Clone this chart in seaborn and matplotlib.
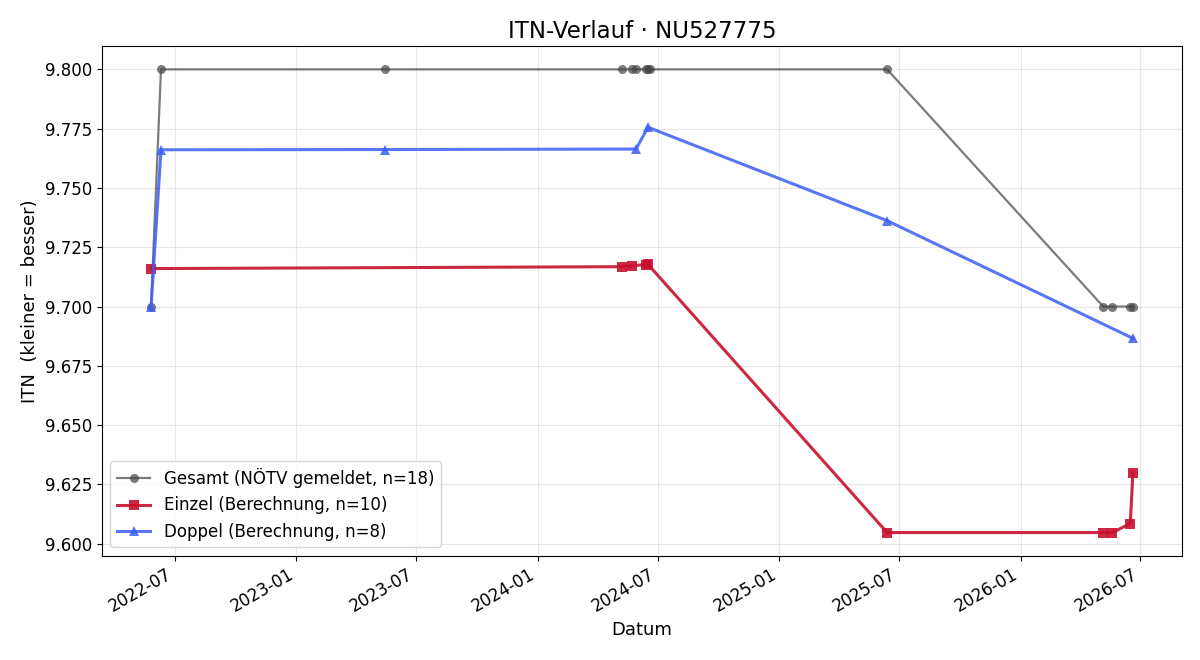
import numpy as np
import pandas as pd
import matplotlib
matplotlib.use("Agg")
import matplotlib.pyplot as plt
import matplotlib.dates as mdates
from matplotlib.ticker import FormatStrFormatter
import seaborn as sns

# Daten
gesamt_dates = ["2022-05-26", "2022-06-10", "2023-05-15", "2024-05-08", "2024-05-23",
                "2024-05-29", "2024-06-13", "2024-06-16", "2024-06-19", "2025-06-13",
                "2026-05-06", "2026-05-20", "2026-06-16", "2026-06-20"]
gesamt_itn = [9.70, 9.80, 9.80, 9.80, 9.80,
              9.80, 9.80, 9.80, 9.80, 9.80,
              9.70, 9.70, 9.70, 9.70]

einzel_dates = ["2022-05-26", "2024-05-08", "2024-05-23", "2024-06-13", "2024-06-16",
                "2025-06-13", "2026-05-06", "2026-05-20", "2026-06-16", "2026-06-20"]
einzel_itn = [9.7160, 9.7168, 9.7172, 9.7177, 9.7178,
              9.6047, 9.6047, 9.6047, 9.6085, 9.6300]

doppel_dates = ["2022-05-26", "2022-06-10", "2023-05-15", "2024-05-29", "2024-06-16",
                "2025-06-13", "2026-06-20"]
doppel_itn = [9.7000, 9.7661, 9.7662, 9.7664, 9.7756, 9.7362, 9.6866]

df_g = pd.DataFrame({"Datum": pd.to_datetime(gesamt_dates), "ITN": gesamt_itn})
df_e = pd.DataFrame({"Datum": pd.to_datetime(einzel_dates), "ITN": einzel_itn})
df_d = pd.DataFrame({"Datum": pd.to_datetime(doppel_dates), "ITN": doppel_itn})

fig, ax = plt.subplots(figsize=(12, 6.6), dpi=100)

sns.lineplot(data=df_g, x="Datum", y="ITN", ax=ax, color="#444444", alpha=0.7,
             marker="o", markersize=6.5, linewidth=1.6, markeredgewidth=0,
             label="Gesamt (NÖTV gemeldet, n=18)")
sns.lineplot(data=df_e, x="Datum", y="ITN", ax=ax, color="#c8102e", alpha=0.9,
             marker="s", markersize=7, linewidth=2.2, markeredgewidth=0,
             label="Einzel (Berechnung, n=10)")
sns.lineplot(data=df_d, x="Datum", y="ITN", ax=ax, color="#3b5ef5", alpha=0.85,
             marker="^", markersize=7, linewidth=2.2, markeredgewidth=0,
             label="Doppel (Berechnung, n=8)")

ax.set_title("ITN-Verlauf · NU527775", fontsize=16.5)
ax.set_xlabel("Datum", fontsize=13)
ax.set_ylabel("ITN  (kleiner = besser)", fontsize=13)
ax.tick_params(labelsize=12)
ax.yaxis.set_major_formatter(FormatStrFormatter("%.3f"))
ax.xaxis.set_major_locator(mdates.MonthLocator(bymonth=[1, 7]))
ax.xaxis.set_major_formatter(mdates.DateFormatter("%Y-%m"))
ax.grid(True, alpha=0.3)
ax.legend(loc="lower left", fontsize=12)
fig.autofmt_xdate()
fig.subplots_adjust(left=0.085, right=0.985, top=0.930, bottom=0.158)
fig.savefig("out.png")
